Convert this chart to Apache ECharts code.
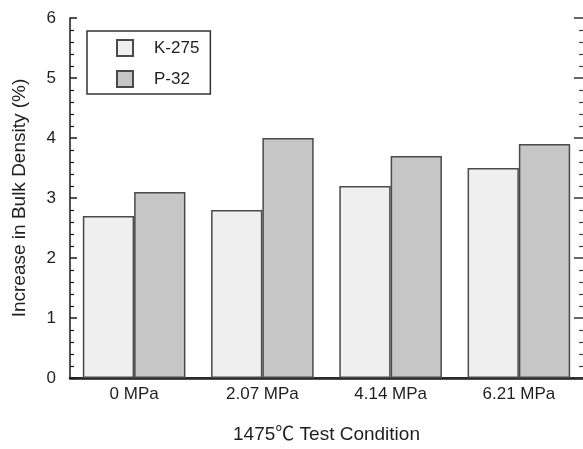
<!DOCTYPE html>
<html>
<head>
<meta charset="utf-8">
<script src="https://cdn.jsdelivr.net/npm/echarts@6/dist/echarts.min.js"></script>
<style>
  html, body { margin: 0; padding: 0; background: #fff; }
  #chart { width: 583px; height: 449px; }
</style>
</head>
<body>
<div id="chart"></div>
<script>
// Bulk density increase after 1475 °C testing, per applied pressure
const categories = ['0 MPa', '2.07 MPa', '4.14 MPa', '6.21 MPa'];
const k275 = [2.7, 2.8, 3.2, 3.5];
const p32 = [3.1, 4.0, 3.7, 3.9];
const yTicks = [0, 1, 2, 3, 4, 5, 6];

const font = 'Liberation Sans, Arial, Noto Sans CJK SC, sans-serif';
const ink = '#1e1e1e';

const chart = echarts.init(document.getElementById('chart'), null, { renderer: 'canvas' });

const barBorder = { borderColor: '#4a4a4a', borderWidth: 1.5 };

chart.setOption({
  animation: false,
  backgroundColor: '#ffffff',
  textStyle: { fontFamily: font },
  grid: { left: 70, right: -1, top: 18, bottom: 69, containLabel: false },
  legend: {
    orient: 'vertical',
    left: 87,
    top: 31,
    padding: [8, 11, 6, 29],
    itemWidth: 16,
    itemHeight: 16,
    itemGap: 13,
    borderColor: '#333',
    borderWidth: 1.5,
    icon: 'rect',
    textStyle: { fontSize: 17, color: ink, fontFamily: font, padding: [0, 0, 0, 16] },
    data: ['K-275', 'P-32']
  },
  xAxis: [
    {
      type: 'category',
      data: categories,
      name: '1475\u2103 Test Condition',
      nameLocation: 'middle',
      nameGap: 47,
      nameTextStyle: { fontSize: 19, color: ink, fontFamily: font },
      axisLine: { show: true, lineStyle: { color: '#1a1a1a', width: 2.5 } },
      axisTick: { show: false },
      axisLabel: { fontSize: 17, color: ink, margin: 8, fontFamily: font },
      splitLine: { show: false }
    },
    {
      type: 'category',
      position: 'top',
      data: categories,
      axisLine: { show: true, lineStyle: { color: '#2a2a2a', width: 2 } },
      axisTick: { show: false },
      axisLabel: { show: false },
      splitLine: { show: false }
    }
  ],
  yAxis: [
    {
      type: 'value',
      min: yTicks[0],
      max: yTicks[yTicks.length - 1],
      interval: 1,
      name: 'Increase in Bulk Density (%)',
      nameLocation: 'middle',
      nameGap: 41,
      nameTextStyle: { fontSize: 19, color: ink, fontFamily: font },
      axisLine: { show: true, lineStyle: { color: '#1a1a1a', width: 1.5 } },
      axisTick: { show: true, inside: true, length: 7, lineStyle: { color: '#1a1a1a', width: 1.5 } },
      minorTick: { show: true, splitNumber: 5, length: 4, lineStyle: { color: '#1a1a1a', width: 1.2 } },
      axisLabel: { fontSize: 17, color: ink, margin: 14, fontFamily: font },
      splitLine: { show: false }
    },
    {
      type: 'value',
      position: 'right',
      min: yTicks[0],
      max: yTicks[yTicks.length - 1],
      interval: 1,
      axisLine: { show: false },
      axisTick: { show: true, inside: true, length: 9, lineStyle: { color: '#333', width: 1.5 } },
      minorTick: { show: true, splitNumber: 5, length: 4, lineStyle: { color: '#444', width: 1.2 } },
      axisLabel: { show: false },
      splitLine: { show: false }
    }
  ],
  series: [
    {
      name: 'K-275',
      type: 'bar',
      data: k275,
      barGap: '0%',
      barCategoryGap: '20%',
      itemStyle: Object.assign({ color: '#efefef' }, barBorder)
    },
    {
      name: 'P-32',
      type: 'bar',
      data: p32,
      barGap: '0%',
      barCategoryGap: '20%',
      itemStyle: Object.assign({ color: '#c6c6c6' }, barBorder)
    }
  ]
});
</script>
</body>
</html>
